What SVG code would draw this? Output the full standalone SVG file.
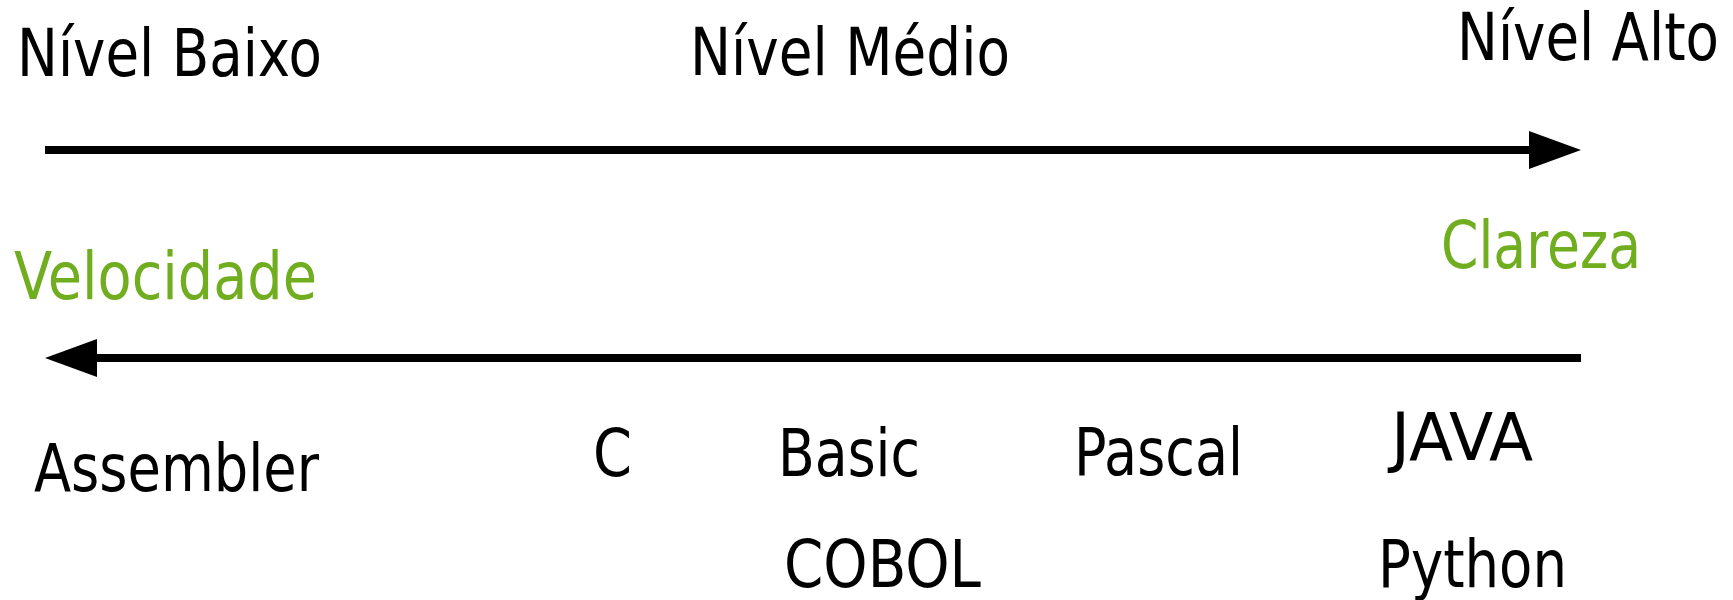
<svg xmlns="http://www.w3.org/2000/svg" width="1733" height="600" viewBox="0 0 1733 600">
<style>
text{font-family:"DejaVu Sans","Liberation Sans",sans-serif;font-size:66px;fill:#000}
.g{fill:#70AD1F}
.ax{stroke:#000;stroke-width:8;fill:none}
</style>
<defs>
<marker id="ah" viewBox="0 0 52 38" refX="0" refY="19" markerWidth="52" markerHeight="38" markerUnits="userSpaceOnUse" orient="auto">
<path d="M0,0 L52,19 L0,38 Z" fill="#000"/>
</marker>
</defs>
<rect width="1733" height="600" fill="#fff"/>
<g id="connectors">
<line class="ax" x1="45" y1="150" x2="1529" y2="150" marker-end="url(#ah)"/>
<line class="ax" x1="1581" y1="358" x2="97" y2="358" marker-end="url(#ah)"/>
</g>
<g id="nivel-baixo"><text x="17" y="76" textLength="305" lengthAdjust="spacingAndGlyphs">Nível Baixo</text></g>
<g id="nivel-medio"><text x="690" y="75" textLength="320" lengthAdjust="spacingAndGlyphs">Nível Médio</text></g>
<g id="nivel-alto"><text x="1457" y="60" font-size="63" textLength="262" lengthAdjust="spacingAndGlyphs">Nível Alto</text></g>
<g id="velocidade"><text class="g" x="14" y="299" textLength="303" lengthAdjust="spacingAndGlyphs">Velocidade</text></g>
<g id="clareza"><text class="g" x="1441" y="268" textLength="200" lengthAdjust="spacingAndGlyphs">Clareza</text></g>
<g id="assembler"><text x="34" y="491" textLength="285" lengthAdjust="spacingAndGlyphs">Assembler</text></g>
<g id="c"><text x="593" y="476" textLength="39" lengthAdjust="spacingAndGlyphs">C</text></g>
<g id="basic"><text x="778" y="476" textLength="142" lengthAdjust="spacingAndGlyphs">Basic</text></g>
<g id="cobol"><text x="784" y="587" textLength="197" lengthAdjust="spacingAndGlyphs">COBOL</text></g>
<g id="pascal"><text x="1074" y="475" textLength="169" lengthAdjust="spacingAndGlyphs">Pascal</text></g>
<g id="java"><text x="1391" y="460" textLength="142" lengthAdjust="spacingAndGlyphs">JAVA</text></g>
<g id="python"><text x="1378" y="587" textLength="189" lengthAdjust="spacingAndGlyphs">Python</text></g>
</svg>
